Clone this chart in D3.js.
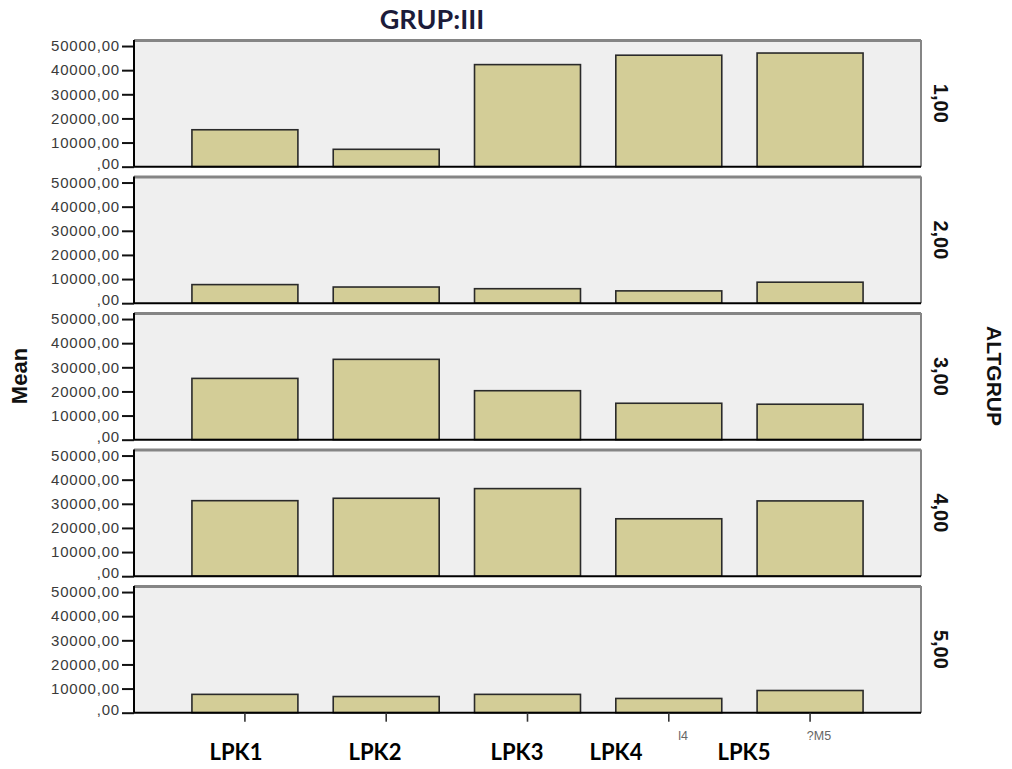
<!DOCTYPE html>
<html><head><meta charset="utf-8">
<script src="https://cdn.jsdelivr.net/npm/d3@7"></script>
<style>body{margin:0;background:#fff}svg{display:block}</style>
</head><body>
<script>
const categories = ["LPK1","LPK2","LPK3","LPK4","LPK5"];
const panels = ["1,00","2,00","3,00","4,00","5,00"];
const values1 = [15300, 7200, 42300, 46200, 47100];
const values2 = [7700, 6700, 6000, 5100, 8700];
const values3 = [25400, 33300, 20300, 15100, 14700];
const values4 = [31300, 32300, 36300, 23800, 31200];
const values5 = [7600, 6700, 7600, 5900, 9200];
const series = [values1, values2, values3, values4, values5];
const yTicks = [0, 10000, 20000, 30000, 40000, 50000];
const tickLabels = [",00","10000,00","20000,00","30000,00","40000,00","50000,00"];
const strayLabels = ["l4", "?M5"];

const W = 1012, H = 769;
const svg = d3.select("body").append("svg").attr("width", W).attr("height", H);

const left = 134, right = 921;
const x = d3.scaleBand().domain(categories).range([left, right]).paddingInner(0.25).paddingOuter(0.41);
const row = d3.scaleBand().domain(panels).range([40, 712.7]).paddingInner(0.072);
const ph = row.bandwidth();
const y = d3.scaleLinear().domain([0, 52500]).range([ph, 0]);

panels.forEach((p, i) => {
  const g = svg.append("g").attr("transform", `translate(0,${row(p)})`);
  g.append("rect").attr("x", left).attr("y", 0).attr("width", right - left).attr("height", ph).attr("fill", "#efefef");
  g.append("line").attr("x1", left).attr("x2", right).attr("y1", 0.5).attr("y2", 0.5).attr("stroke", "#858585").attr("stroke-width", 3);
  g.append("line").attr("x1", right).attr("x2", right).attr("y1", 0).attr("y2", ph).attr("stroke", "#858585").attr("stroke-width", 2);
  g.selectAll("rect.bar").data(series[i]).join("rect").attr("class", "bar")
    .attr("x", (d, j) => x(categories[j])).attr("width", x.bandwidth())
    .attr("y", d => y(d)).attr("height", d => ph - y(d))
    .attr("fill", "#d3cd97").attr("stroke", "#2a2a2a").attr("stroke-width", 1.6);
  const ax = g.append("g").attr("transform", `translate(${left},0)`)
    .call(d3.axisLeft(y).tickValues(yTicks).tickSize(12).tickPadding(2).tickFormat((d, k) => tickLabels[k]));
  ax.select(".domain").remove();
  ax.selectAll(".tick line").attr("stroke", "#111").attr("stroke-width", 2);
  ax.selectAll(".tick text").attr("font-family", "Liberation Sans, Arial, sans-serif").attr("font-size", 15)
    .attr("fill", "#3a3a3a").attr("letter-spacing", 0.8)
    .attr("dy", (d) => d === 0 ? "0.1em" : "0.32em");
  g.append("line").attr("x1", left).attr("x2", left).attr("y1", 0).attr("y2", ph).attr("stroke", "#000").attr("stroke-width", 2);
  g.append("line").attr("x1", left).attr("x2", right).attr("y1", ph).attr("y2", ph).attr("stroke", "#000").attr("stroke-width", 2);
  g.append("text").attr("transform", `translate(934,${ph / 2}) rotate(90)`).attr("text-anchor", "middle")
    .attr("font-family", "Liberation Sans, Arial, sans-serif").attr("font-weight", "bold").attr("font-size", 20).attr("fill", "#111").text(p);
});

const lastBottom = row(panels[4]) + ph;
const xa = svg.append("g").attr("transform", `translate(0,${lastBottom})`)
  .call(d3.axisBottom(x).tickSize(9).tickFormat(""));
xa.select(".domain").remove();
xa.selectAll(".tick line").attr("stroke", "#333").attr("stroke-width", 1.6);

svg.append("text").attr("x", 683).attr("y", 740).attr("text-anchor", "middle").attr("font-family", "Liberation Sans, Arial, sans-serif").attr("font-size", 12.5).attr("fill", "#666").text(strayLabels[0]);
svg.append("text").attr("x", 819).attr("y", 740).attr("text-anchor", "middle").attr("font-family", "Liberation Sans, Arial, sans-serif").attr("font-size", 12.5).attr("fill", "#666").text(strayLabels[1]);

const labelX = [236, 375, 517, 616, 744];
svg.selectAll("text.cat").data(categories).join("text").attr("class", "cat")
  .attr("x", (d, i) => labelX[i]).attr("y", 760).attr("text-anchor", "middle")
  .attr("font-family", "Lato, Open Sans, sans-serif").attr("font-weight", "bold").attr("font-size", 22).attr("fill", "#000").text(d => d);

svg.append("text").attr("x", 432).attr("y", 29).attr("text-anchor", "middle")
  .attr("font-family", "Lato, Open Sans, sans-serif").attr("font-weight", "bold").attr("font-size", 27).attr("fill", "#1c1c3a").text("GRUP:III");

svg.append("text").attr("transform", `translate(27,376) rotate(-90)`).attr("text-anchor", "middle")
  .attr("font-family", "Liberation Sans, Arial, sans-serif").attr("font-weight", "bold").attr("font-size", 22).attr("fill", "#111").text("Mean");
svg.append("text").attr("transform", `translate(987,376) rotate(90)`).attr("text-anchor", "middle")
  .attr("font-family", "Liberation Sans, Arial, sans-serif").attr("font-weight", "bold").attr("font-size", 21).attr("fill", "#111").text("ALTGRUP");
</script>
</body></html>
